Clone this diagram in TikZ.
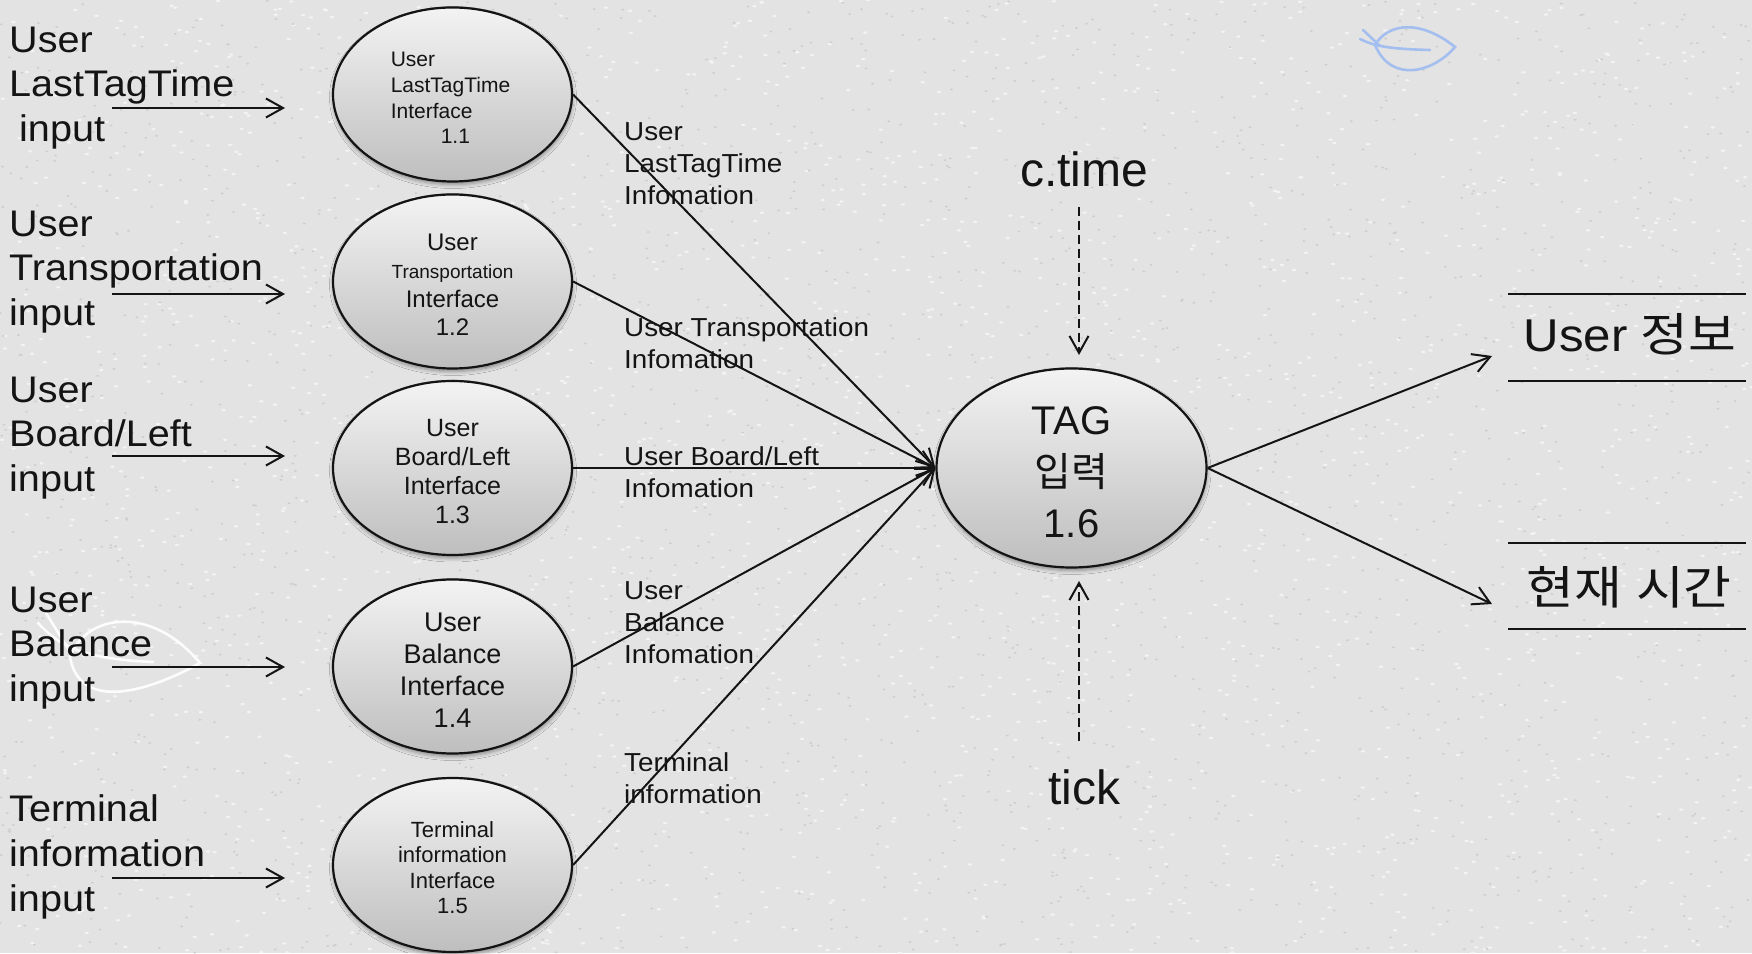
\documentclass[tikz,border=0pt]{standalone}
\usepackage{fontspec}
\setmainfont{Liberation Sans}
\newfontfamily\widefont[FakeStretch=1.07]{Liberation Sans}
\newfontfamily\krfont{Noto Sans CJK KR}
\newfontfamily\krwide[FakeStretch=1.13]{Noto Sans CJK KR}
\usetikzlibrary{arrows.meta,shapes.geometric,shadows.blur}

\definecolor{paper}{RGB}{227,227,227}
\definecolor{grainlight}{RGB}{243,243,243}
\definecolor{graindark}{RGB}{205,205,205}
\definecolor{leafblue}{RGB}{164,190,240}
\definecolor{bubbletop}{RGB}{243,243,243}
\definecolor{bubblebot}{RGB}{190,190,190}
\definecolor{ink}{RGB}{20,20,20}

\tikzset{
  x=1pt, y=1pt,
  flow/.style={draw=ink, line width=2pt, -{Straight Barb[length=17pt,width=19pt,line width=2pt]}},
  flowdash/.style={flow, dash pattern=on 9pt off 5pt},
  proc/.style={ellipse, draw=ink, line width=2.2pt, inner sep=0pt,
    minimum width=239pt, minimum height=174pt,
    top color=bubbletop, bottom color=bubblebot,
    blur shadow={shadow xshift=0.5pt, shadow yshift=-3pt, shadow blur radius=4pt, shadow opacity=40}},
  proctext/.style={align=center, inner sep=0pt, text=ink},
  lefttext/.style={anchor=west, align=left, inner sep=0pt, text=ink,
    font=\widefont\fontsize{37}{44.7}\selectfont},
  flowlabel/.style={anchor=west, align=left, inner sep=0pt, text=ink,
    font=\widefont\fontsize{26}{32}\selectfont},
  bigtext/.style={inner sep=0pt, text=ink, font=\fontsize{48}{52}\selectfont},
  storetext/.style={inner sep=0pt, text=ink, font=\fontsize{46}{50}\selectfont},
  storeline/.style={draw=ink, line width=2pt},
  leaf/.style={line width=2.6pt, line cap=round},
}

\begin{document}
\begin{tikzpicture}
% paper background with a fine grain
\fill[paper] (0,0) rectangle (1752,953);
\useasboundingbox (0,0) rectangle (1752,953);
\pgfmathsetseed{4242}
\foreach \k in {1,...,2200} {
  \pgfmathsetmacro{\gx}{rnd*1752}
  \pgfmathsetmacro{\gy}{rnd*953}
  \fill[grainlight] (\gx,\gy) ellipse [x radius=2.2pt, y radius=1.2pt];
}
\foreach \k in {1,...,2200} {
  \pgfmathsetmacro{\gx}{rnd*1752}
  \pgfmathsetmacro{\gy}{rnd*953}
  \fill[graindark] (\gx,\gy) ellipse [x radius=1.6pt, y radius=1pt];
}

% decorative leaves
\begin{scope}[leaf, draw=leafblue]
  \draw (1375,908) .. controls (1388,930) and (1420,934) .. (1455,906)
        .. controls (1435,882) and (1392,868) .. (1375,908);
  \draw (1360,914) .. controls (1372,908) and (1385,904) .. (1430,903);
  \draw (1363,923) -- (1380,907);
\end{scope}
\begin{scope}[leaf, draw=white, opacity=0.9]
  \draw (70,296) .. controls (85,338) and (150,350) .. (200,290)
        .. controls (150,262) and (80,240) .. (70,296);
  \draw (38,330) .. controls (60,306) and (85,294) .. (153,291);
  \draw (46,340) -- (72,298);
\end{scope}

% left-hand inputs
\node[lefttext] (in1) at (9,865) {User\\LastTagTime\\\hspace*{10pt}input};
\node[lefttext] (in2) at (9,681) {User\\Transportation\\input};
\node[lefttext] (in3) at (9,515) {User\\Board/Left\\input};
\node[lefttext] (in4) at (9,305) {User\\Balance\\input};
\node[lefttext] (in5) at (9,96) {Terminal\\information\\input};

\coordinate (a1s) at (112,845); \coordinate (a1e) at (285,845);
\coordinate (a2s) at (112,659); \coordinate (a2e) at (285,659);
\coordinate (a3s) at (112,497); \coordinate (a3e) at (285,497);
\coordinate (a4s) at (112,286); \coordinate (a4e) at (285,286);
\coordinate (a5s) at (112,75);  \coordinate (a5e) at (285,75);
\foreach \i in {1,...,5} \draw[flow] (a\i s) -- (a\i e);

% interface processes
\node[proc] (p1) at (452.5,858.5) {};
\node[proc] (p2) at (452.5,671.5) {};
\node[proc] (p3) at (452.5,485) {};
\node[proc] (p4) at (452.5,286.5) {};
\node[proc] (p5) at (452.5,88) {};

\node[proctext, align=left, font=\fontsize{21}{25.7}\selectfont] (p1t) at ([xshift=-2pt,yshift=-3.5pt]p1.center)
  {User\\LastTagTime\\Interface\\\hspace*{50pt}1.1};
\node[proctext, font=\fontsize{24}{28.5}\selectfont] (p2t) at ([yshift=-3.5pt]p2.center)
  {User\\{\fontsize{19}{28.5}\selectfont Transportation}\\Interface\\1.2};
\node[proctext, font=\fontsize{25}{29}\selectfont] (p3t) at ([yshift=-3.5pt]p3.center)
  {User\\Board/Left\\Interface\\1.3};
\node[proctext, font=\fontsize{27}{32}\selectfont] (p4t) at ([yshift=-4pt]p4.center)
  {User\\Balance\\Interface\\1.4};
\node[proctext, font=\fontsize{22}{25.5}\selectfont] (p5t) at ([yshift=-2.5pt]p5.center)
  {Terminal\\information\\Interface\\1.5};

% central process
\node[proc, minimum width=270pt, minimum height=199pt] (tag) at (1071.5,485) {};
\node[proctext, font=\fontsize{40}{51.5}\selectfont] (tagt) at ([yshift=-4.5pt]tag.center)
  {TAG\\{\krfont\fontsize{40}{51.5}\selectfont 입력}\\1.6};

% flows into the central process
\foreach \i in {1,...,5} \draw[flow] (p\i.east) -- (tag.west);

\node[flowlabel] (f1) at (624,789) {User\\LastTagTime\\Infomation};
\node[flowlabel] (f2) at (624,610) {User Transportation\\Infomation};
\node[flowlabel] (f3) at (624,481) {User Board/Left\\Infomation};
\node[flowlabel] (f4) at (624,330) {User\\Balance\\Infomation};
\node[flowlabel] (f5) at (624,175) {Terminal\\information};

% clock inputs
\node[bigtext] (ctime) at (1084,784) {c.time};
\node[bigtext] (tick) at (1084,166) {tick};
\coordinate (cs) at (1079,746); \coordinate (ce) at (1079,598);
\coordinate (ts) at (1079,212); \coordinate (te) at (1079,372);
\draw[flowdash] (cs) -- (ce);
\draw[flowdash] (ts) -- (te);

% outputs to data stores
\coordinate (o1) at (1492,597);
\coordinate (o2) at (1492,349);
\draw[flow] (tag.east) -- (o1);
\draw[flow] (tag.east) -- (o2);

\draw[storeline] (1508,659) -- (1746,659);
\draw[storeline] (1508,572) -- (1746,572);
\node[storetext] (s1) at (1630,619) {{\widefont User} {\krwide 정보}};
\draw[storeline] (1508,410) -- (1746,410);
\draw[storeline] (1508,324) -- (1746,324);
\node[storetext] (s2) at (1629,366) {\krwide 현재\hspace{14pt}시간};
\end{tikzpicture}
\end{document}
